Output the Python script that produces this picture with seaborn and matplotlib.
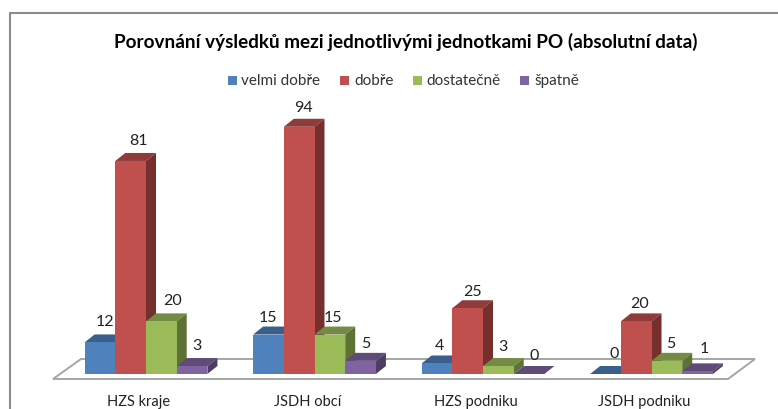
import matplotlib
matplotlib.use("Agg")
import matplotlib.pyplot as plt
import matplotlib.transforms as mtrans
import pandas as pd
import seaborn as sns
from matplotlib.lines import Line2D
from matplotlib.patches import Polygon, Rectangle

# Data
categories = ["HZS kraje", "JSDH obcí", "HZS podniku", "JSDH podniku"]
series_names = ["velmi dobře", "dobře", "dostatečně", "špatně"]
velmi_dobre = [12, 15, 4, 0]
dobre = [81, 94, 25, 20]
dostatecne = [20, 15, 3, 5]
spatne = [3, 5, 0, 1]

front_colors = ["#4f81bd", "#c0504d", "#9bbb59", "#8064a2"]
top_colors = ["#3a5f8c", "#8e3b39", "#738b42", "#5f4a78"]
side_colors = ["#2f4d72", "#772f2e", "#5f7236", "#4e3d63"]

# label offsets from the bar top centre, in pixels (one row per series)
label_dx = [[5, 0, 3, 9], [7.5, 4, 4.5, 3.5], [11.5, 3.5, 4.5, 4], [4.5, 5, 5.5, 6.5]]
label_dy = [[21, 18, 18, 21], [21, 20, 17, 18], [21, 18, 20, 18], [21, 18, 19, 23]]

W, H = 778, 410
DEPTH_X, DEPTH_Y = 10, 8  # 3d depth in pixels

df = pd.DataFrame({
    "kategorie": categories * 4,
    "hodnoceni": sum([[n] * 4 for n in series_names], []),
    "pocet": velmi_dobre + dobre + dostatecne + spatne,
})

sns.set_theme(style="white")
plt.rcParams["font.family"] = ["Lato", "DejaVu Sans"]

fig = plt.figure(figsize=(W / 100, H / 100), dpi=100)
ax = fig.add_axes([61.75 / W, 1 - 375 / H, 674 / W, 263 / H])

sns.barplot(data=df, x="kategorie", y="pocet", hue="hodnoceni", hue_order=series_names,
            palette=front_colors, width=0.729, gap=0, saturation=1, legend=False,
            linewidth=0, ax=ax)
ax.set_xlim(-0.5, 3.5)
ax.set_ylim(0, 100)
ax.set_xlabel("")
ax.set_ylabel("")
ax.set_yticks([])
ax.tick_params(axis="x", length=0, pad=14.5, labelsize=10.5, labelcolor="#222222")
sns.despine(ax=ax, left=True, bottom=True)
ax.patch.set_alpha(0)

# category labels sit a bit left of the group centre
shift = mtrans.ScaledTranslation(-7 / 100, 0, fig.dpi_scale_trans)
for lab in ax.get_xticklabels():
    lab.set_transform(lab.get_transform() + shift)

# pixel -> data conversion for the fake depth
ux = 674 / 4
uy = 263 / 100
dx = DEPTH_X / ux
dy = DEPTH_Y / uy

# floor
floor = Polygon([(-0.5 - 8.75 / ux, -5 / uy), (3.5 - 7.75 / ux, -5 / uy),
                 (3.5 + 19.25 / ux, 15 / uy), (-0.5 + 19.25 / ux, 15 / uy)],
                closed=True, facecolor="white", edgecolor="#a6a6a6", linewidth=1.4,
                clip_on=False, zorder=1)
ax.add_patch(floor)

# depth faces and value labels, each series painted over the one before it
for s, cont in enumerate(ax.containers):
    values = df[df["hodnoceni"] == series_names[s]]["pocet"]
    for i, (bar, v) in enumerate(zip(cont, values)):
        x0, w, h = bar.get_x(), bar.get_width(), bar.get_height()
        x1 = x0 + w
        bar.set_zorder(6 + 2 * s)
        ax.add_patch(Polygon([(x0, h), (x1, h), (x1 + dx, h + dy), (x0 + dx, h + dy)],
                             facecolor=top_colors[s], linewidth=0, clip_on=False, zorder=5 + 2 * s))
        ax.add_patch(Polygon([(x1, 0), (x1 + dx, dy), (x1 + dx, h + dy), (x1, h)],
                             facecolor=side_colors[s], linewidth=0, clip_on=False, zorder=5 + 2 * s))
        ax.annotate(str(v), (x0 + w / 2, h), xytext=(label_dx[s][i], label_dy[s][i]),
                    textcoords="offset pixels", ha="center", va="center", fontsize=11.5,
                    color="#222222", annotation_clip=False, zorder=20)

fig.text(405.5 / W, 1 - 42 / H, "Porovnání výsledků mezi jednotlivými jednotkami PO (absolutní data)",
         ha="center", va="center", fontsize=13.6, fontweight="bold", color="black")

# legend
leg_x = [228, 340, 413, 520]
txt_x = [241, 354, 426, 534]
for s, name in enumerate(series_names):
    fig.patches.append(Rectangle((leg_x[s] / W, 1 - 86 / H), 9 / W, 9 / H, transform=fig.transFigure,
                                 facecolor=front_colors[s], linewidth=0))
    fig.text(txt_x[s] / W, 1 - 81.5 / H, name, ha="left", va="center", fontsize=11, color="#333333")

# outer frame
frame = dict(color="#8c8c8c", linewidth=1.5, transform=fig.transFigure)
fig.add_artist(Line2D([10 / W, 10 / W], [0, 1 - 14 / H], **frame))
fig.add_artist(Line2D([10 / W, 1], [1 - 14 / H, 1 - 14 / H], **frame))

fig.savefig("out.png", dpi=100)
